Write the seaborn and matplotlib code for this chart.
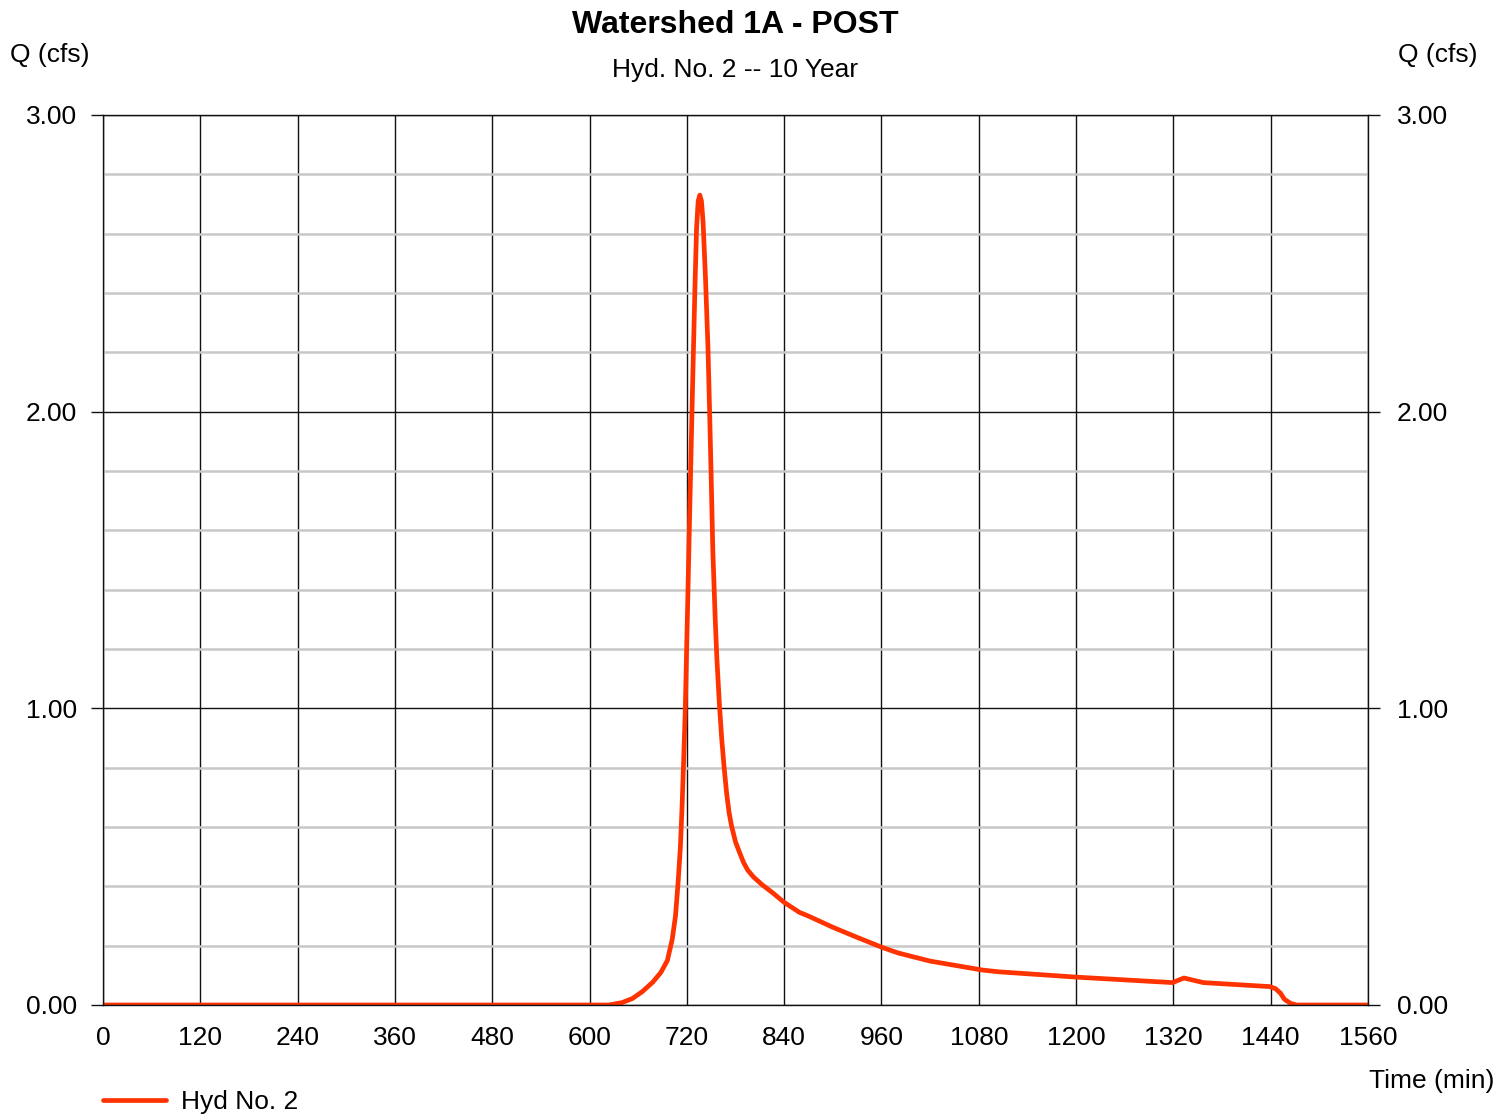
import pandas as pd
import matplotlib
matplotlib.use("Agg")
import matplotlib.pyplot as plt
import seaborn as sns
from matplotlib.ticker import MultipleLocator

# Hydrograph (time in min, flow in cfs)
tiempo = [0, 120, 240, 360, 480, 600, 624, 640, 653, 665, 678, 688, 696, 702, 706, 709,
          712, 714, 716, 718, 721, 724, 727, 730, 732, 734, 736, 738, 740, 743, 746, 748,
          750, 752, 755, 757, 760, 763, 766, 769, 772, 775, 780, 785, 790, 795, 802,
          813, 825, 840, 859, 869, 900, 930, 961, 981, 1020, 1084, 1104, 1200, 1319,
          1333, 1357, 1439, 1446, 1452, 1457, 1465, 1472, 1500, 1560]
caudal = [0, 0, 0, 0, 0, 0, 0, 0.008, 0.022, 0.045, 0.077, 0.11, 0.15, 0.222, 0.30, 0.405,
          0.53, 0.66, 0.82, 0.99, 1.35, 1.72, 2.08, 2.42, 2.62, 2.71, 2.73, 2.71, 2.64, 2.45, 2.22,
          2.01, 1.78, 1.535, 1.30, 1.17, 1.02, 0.897, 0.80, 0.715, 0.65, 0.605, 0.55, 0.514,
          0.48, 0.455, 0.432, 0.405, 0.38, 0.346, 0.312, 0.301, 0.262, 0.228, 0.194, 0.175,
          0.148, 0.118, 0.112, 0.094, 0.0755, 0.091, 0.0755, 0.062, 0.055, 0.04, 0.019,
          0.005, 0, 0, 0]

df = pd.DataFrame({"Time": tiempo, "Q": caudal})

sns.set_style("white")
plt.rcParams["font.family"] = ["Liberation Sans", "DejaVu Sans"]
plt.rcParams["text.color"] = "black"
plt.rcParams["xtick.color"] = "black"
plt.rcParams["ytick.color"] = "black"

fig = plt.figure(figsize=(15.12, 11.16), dpi=100)
ax = fig.add_axes([103 / 1512, 111 / 1116, 1265 / 1512, 890 / 1116])

# Grid: minor gray, major black
ax.set_xlim(0, 1560)
ax.set_ylim(0, 3)
ax.xaxis.set_major_locator(MultipleLocator(120))
ax.yaxis.set_major_locator(MultipleLocator(1))
ax.yaxis.set_minor_locator(MultipleLocator(0.2))
ax.grid(which="minor", axis="y", color="#c8c8c8", linewidth=1.8)
ax.grid(which="major", axis="y", color="#111111", linewidth=1.0)
ax.grid(which="major", axis="x", color="#111111", linewidth=1.0)
ax.set_axisbelow(True)

sns.lineplot(data=df, x="Time", y="Q", ax=ax, color="#ff3300", linewidth=3.4,
             label="Hyd No. 2", legend=False, solid_capstyle="round",
             solid_joinstyle="round")

for s in ax.spines.values():
    s.set_color("#111111")
    s.set_linewidth(1.0)

ax.set_xlabel("")
ax.set_ylabel("")
ax.yaxis.set_major_formatter(plt.FuncFormatter(lambda v, p: f"{v:.2f}"))
ax.tick_params(axis="y", which="major", length=8.6, width=1, color="#111111",
               labelsize=19, pad=10, direction="out", left=True)
ax.tick_params(axis="y", which="minor", length=0)
ax.tick_params(axis="x", length=0, labelsize=19, pad=15)

ax2 = ax.twinx()
ax2.set_ylim(0, 3)
ax2.yaxis.set_major_locator(MultipleLocator(1))
ax2.yaxis.set_major_formatter(plt.FuncFormatter(lambda v, p: f"{v:.2f}"))
ax2.tick_params(axis="y", length=8.6, width=1, color="#111111", labelsize=19, pad=12,
                direction="out", right=True)
for s in ax2.spines.values():
    s.set_visible(False)
ax2.grid(False)

fig.text(735 / 1512, 1 - 25 / 1116, "Watershed 1A - POST", ha="center", va="center",
         fontsize=23, fontweight="bold")
fig.text(735 / 1512, 1 - 70 / 1116, "Hyd. No. 2 -- 10 Year", ha="center", va="center",
         fontsize=19)
fig.text(10 / 1512, 1 - 55 / 1116, "Q (cfs)", ha="left", va="center", fontsize=19)
fig.text(1398 / 1512, 1 - 55 / 1116, "Q (cfs)", ha="left", va="center", fontsize=19)
fig.text(1494 / 1512, 1 - 1081 / 1116, "Time (min)", ha="right", va="center", fontsize=19)

# leyenda
fig.legend(handles=ax.get_lines()[-1:], labels=["Hyd No. 2"], loc="center left",
           bbox_to_anchor=(103 / 1512, 1 - 1102 / 1116), frameon=False, fontsize=19,
           handlelength=2.4, handletextpad=0.55, borderpad=0, borderaxespad=0)

fig.savefig("out.png", dpi=100)
